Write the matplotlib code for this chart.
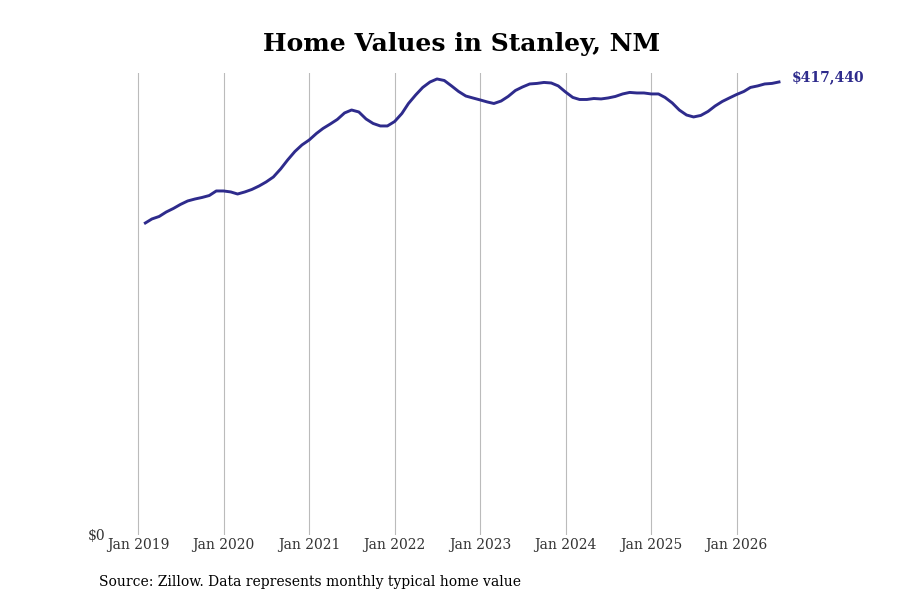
import matplotlib
matplotlib.use("Agg")
import matplotlib.pyplot as plt
import pandas as pd

# monthly typical home value, Feb 2019 .. Jul 2026
start_month = "2019-02-01"
values = [
    287500, 291200, 293500, 297600, 300900, 304600, 307800, 309600, 311000, 312800, 317000,
    317000, 316100, 314200, 316100, 318400, 321600, 325300, 329900, 337300, 345600, 353400, 359400,
    364000, 370000, 374600, 378700, 382900, 388900, 391600, 389800, 383300, 379200, 376900, 376900,
    381000, 388400, 397600, 405500, 412400, 417400, 420200, 418800, 413800, 408700, 404500, 402700,
    400900, 399000, 397600, 399900, 404100, 409600, 412800, 415600, 416100, 417000, 416500, 413800,
    408200, 403200, 401300, 401300, 402200, 401800, 402700, 404100, 406400, 407800, 407300, 407300,
    406400, 406400, 403200, 398100, 391600, 387000, 385200, 386600, 390300, 395300, 399500, 402700,
    405900, 408700, 412400, 413800, 415600, 416100, 417440,
]
dates = pd.date_range(start_month, periods=len(values), freq="MS")
tick_years = list(range(2019, 2027))
tick_labels = [f"Jan {y}" for y in tick_years]

title = "Home Values in Stanley, NM"
source = "Source: Zillow. Data represents monthly typical home value"
line_color = "#2e2b8c"

plt.rcParams["font.family"] = "DejaVu Serif"

fig = plt.figure(figsize=(9, 6), dpi=100)
ax = fig.add_axes([110 / 900, 65 / 600, 680 / 900, 462 / 600])

ax.plot(dates, values, color=line_color, linewidth=2.1)

ticks = [pd.Timestamp(f"{y}-01-01") for y in tick_years]
ax.set_xticks(ticks)
ax.set_xticklabels(tick_labels)
ax.set_xlim(pd.Timestamp("2019-01-01") - pd.Timedelta(days=120),
            pd.Timestamp("2019-01-01") + pd.Timedelta(days=2785))
ax.set_ylim(0, 425700)
ax.set_yticks([0])
ax.set_yticklabels(["$0"])

ax.grid(axis="x", color="#bbbbbb", linewidth=0.8)
ax.grid(axis="y", visible=False)
for s in ax.spines.values():
    s.set_visible(False)
ax.tick_params(axis="both", length=0, labelsize=10, labelcolor="#333333")
ax.tick_params(axis="x", pad=2.5)
ax.tick_params(axis="y", pad=3)

ax.annotate(f"${values[-1]:,}", xy=(dates[-1], values[-1]), xytext=(9, 3.5),
            textcoords="offset points", color=line_color, fontsize=10,
            fontweight="bold", va="center", ha="left")

fig.text(461.5 / 900, 1 - 43.5 / 600, title, ha="center", va="center",
         fontsize=18, fontweight="bold")
fig.text(99 / 900, 1 - 582 / 600, source, ha="left", va="center", fontsize=10)

fig.savefig("out.png", dpi=100)
